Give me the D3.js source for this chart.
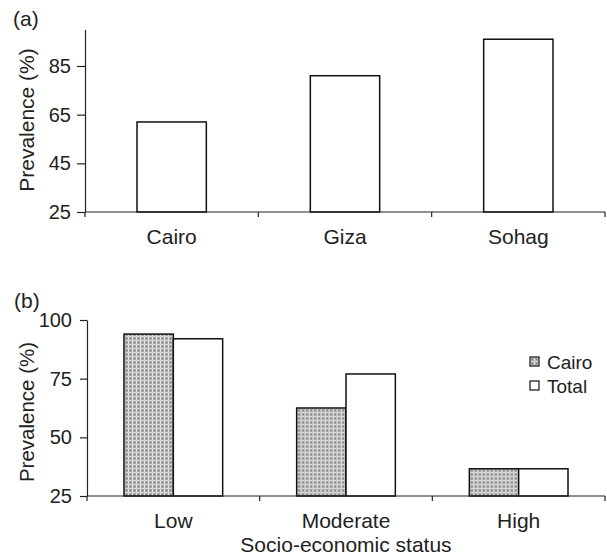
<!DOCTYPE html>
<html lang="en">
<head>
    <meta charset="UTF-8">
    <title>Prevalence</title>
    <style>
        body { margin: 0; background: #fff; }
        svg text { font-family: "Liberation Sans", Arial, sans-serif; fill: #222; }
    </style>
</head>
<body>
    <div id="chart-wrapper"></div>

    <script src="https://d3js.org/d3.v7.min.js"></script>
    <script>
        // panel (a): by governorate
        const regions = ['Cairo', 'Giza', 'Sohag']
        const regionValues = [62, 81, 96]
        const ticksA = [25, 45, 65, 85]

        // panel (b): by socio-economic status
        const statuses = ['Low', 'Moderate', 'High']
        const seriesNames = ['Cairo', 'Total']
        const cairoValues = [94, 62.5, 36.6]
        const totalValues = [92, 77, 36.6]
        const ticksB = [25, 50, 75, 100]

        const width = 607
        const height = 558

        const svg = d3.select('#chart-wrapper')
            .append('svg')
            .attr('width', width)
            .attr('height', height)

        // grey dotted fill for the Cairo series
        const pat = svg.append('defs').append('pattern')
            .attr('id', 'dots')
            .attr('patternUnits', 'userSpaceOnUse')
            .attr('width', 4)
            .attr('height', 4)
        pat.append('rect').attr('width', 4).attr('height', 4).attr('fill', '#a8a8a8')
        pat.append('rect').attr('x', 0).attr('width', 1).attr('height', 4).attr('fill', '#e4e4e4')
        pat.append('rect').attr('y', 0).attr('width', 4).attr('height', 1).attr('fill', '#d6d6d6')
        pat.append('rect').attr('x', 2).attr('y', 2).attr('width', 1).attr('height', 1).attr('fill', '#777')

        function yAxis(g, y, x0, ticks, size, pad) {
            g.attr('transform', `translate(${ x0 }, 0)`)
                .call(d3.axisLeft(y).tickValues(ticks).tickSize(size).tickSizeOuter(0).tickPadding(pad))
            g.selectAll('text').attr('font-size', 20).attr('fill', '#222')
            g.selectAll('line, path').attr('stroke', '#222').attr('stroke-width', 1.2)
        }

        function xAxis(g, x, y0, cats) {
            const [r0, r1] = x.range()
            const step = x.step()
            g.append('line')
                .attr('x1', r0).attr('x2', r1)
                .attr('y1', y0).attr('y2', y0)
                .attr('stroke', '#222').attr('stroke-width', 1.2)
            g.selectAll('.bt')
                .data(d3.range(cats.length + 1))
                .join('line')
                .attr('x1', i => r0 + i * step).attr('x2', i => r0 + i * step)
                .attr('y1', y0).attr('y2', y0 + 5)
                .attr('stroke', '#222').attr('stroke-width', 1.2)
            g.selectAll('.lbl')
                .data(cats)
                .join('text')
                .attr('x', d => x(d) + x.bandwidth() / 2)
                .attr('y', y0 + 32)
                .attr('text-anchor', 'middle')
                .attr('font-size', 21)
                .text(d => d)
        }

        // ---------- panel (a) ----------
        const xa = d3.scaleBand()
            .domain(regions)
            .range([85, 605])
            .paddingInner(0.6)
            .paddingOuter(0.3)
        const ya = d3.scaleLinear().domain([25, 100]).range([212, 29.5])

        svg.append('g')
            .selectAll('rect')
            .data(regions)
            .join('rect')
            .attr('x', d => xa(d))
            .attr('y', (d, i) => ya(regionValues[i]))
            .attr('width', xa.bandwidth())
            .attr('height', (d, i) => ya(25) - ya(regionValues[i]))
            .attr('fill', '#fff')
            .attr('stroke', '#111')
            .attr('stroke-width', 1.5)

        yAxis(svg.append('g'), ya, 85, ticksA, 8, 6)
        xAxis(svg.append('g'), xa, 212, regions)

        svg.append('text')
            .attr('transform', 'translate(34, 120) rotate(-90)')
            .attr('text-anchor', 'middle')
            .attr('font-size', 21)
            .text('Prevalence (%)')

        svg.append('text')
            .attr('x', 13).attr('y', 26)
            .attr('font-size', 21)
            .text('(a)')

        // ---------- panel (b) ----------
        const xb = d3.scaleBand()
            .domain(statuses)
            .range([87, 605])
            .paddingInner(3 / 7)
            .paddingOuter(1.5 / 7)
        const xs = d3.scaleBand().domain(seriesNames).range([0, xb.bandwidth()])
        const yb = d3.scaleLinear().domain([25, 100]).range([496, 320])

        const rowsB = statuses.map((s, i) => ({ s, Cairo: cairoValues[i], Total: totalValues[i] }))

        svg.append('g')
            .selectAll('g')
            .data(rowsB)
            .join('g')
            .attr('transform', d => `translate(${ xb(d.s) }, 0)`)
            .selectAll('rect')
            .data(d => seriesNames.map(k => ({ k, v: d[k] })))
            .join('rect')
            .attr('x', d => xs(d.k))
            .attr('y', d => yb(d.v))
            .attr('width', xs.bandwidth())
            .attr('height', d => yb(25) - yb(d.v))
            .attr('fill', d => d.k === 'Cairo' ? 'url(#dots)' : '#fff')
            .attr('stroke', '#111')
            .attr('stroke-width', 1.5)

        yAxis(svg.append('g'), yb, 87, ticksB, 7, 8)
        xAxis(svg.append('g'), xb, 496, statuses)

        svg.append('text')
            .attr('transform', 'translate(34, 412) rotate(-90)')
            .attr('text-anchor', 'middle')
            .attr('font-size', 20.5)
            .text('Prevalence (%)')

        svg.append('text')
            .attr('x', 346).attr('y', 552)
            .attr('text-anchor', 'middle')
            .attr('font-size', 21)
            .text('Socio-economic status')

        svg.append('text')
            .attr('x', 14).attr('y', 308)
            .attr('font-size', 21)
            .text('(b)')

        // legend
        const legend = svg.append('g')
            .selectAll('g')
            .data(seriesNames)
            .join('g')
            .attr('transform', (d, i) => `translate(530, ${ 357 + i * 24 })`)
        legend.append('rect')
            .attr('width', 9).attr('height', 9)
            .attr('fill', d => d === 'Cairo' ? 'url(#dots)' : '#fff')
            .attr('stroke', '#111')
            .attr('stroke-width', 1.2)
        legend.append('text')
            .attr('x', 17).attr('y', 12)
            .attr('font-size', 19)
            .text(d => d)
    </script>
</body>
</html>
